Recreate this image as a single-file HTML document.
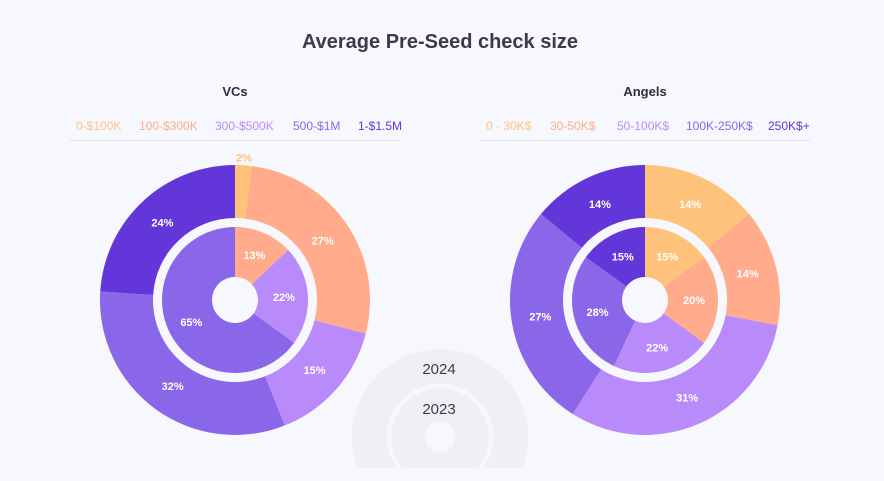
<!DOCTYPE html>
<html><head><meta charset="utf-8"><style>
html,body{margin:0;padding:0;background:#f7f8fd;}
body{width:884px;height:481px;overflow:hidden;font-family:"Liberation Sans",sans-serif;}
svg{display:block;}
</style></head><body>
<svg id="chart" width="884" height="481" xmlns="http://www.w3.org/2000/svg" style="font-family:'Liberation Sans',sans-serif">
<rect width="884" height="481" fill="#f7f8fd"/>
<text x="440" y="48" text-anchor="middle" font-size="20" font-weight="bold" fill="#3b3b4b">Average Pre-Seed check size</text>
<g>
<path d="M357.6 468 A88 88 0 1 1 522.4 468 Z" fill="#eff0f5"/>
<path d="M399.5 468 A51 51 0 1 1 480.5 468" fill="none" stroke="#f7f8fd" stroke-width="5"/>
<circle cx="440" cy="437" r="15" fill="#f7f8fd"/>
<text x="439" y="374" text-anchor="middle" font-size="15" fill="#3b3b4b">2024</text>
<text x="439" y="414" text-anchor="middle" font-size="15" fill="#3b3b4b">2023</text>
</g>
<g id="charts"></g>
</svg>
<script>
const colors=["#ffc27a","#ffab8c","#b98afa","#8a67e8","#6236d9"];
const vcLegend=["0-$100K","100-$300K","300-$500K","500-$1M","1-$1.5M"];
const vcOuter=[2,27,15,32,24];
const vcInner=[0,13,22,65,0];
const angelLegend=["0 - 30K$","30-50K$","50-100K$","100K-250K$","250K$+"];
const angelOuter=[14,14,31,27,14];
const angelInner=[15,20,22,28,15];
const vcLegendX=[76,139,215,293,358];
const angelLegendX=[486,550,617,686,768];
const NS="http://www.w3.org/2000/svg";
const root=document.getElementById('charts');
function mk(tag,attrs,parent){const e=document.createElementNS(NS,tag);for(const k in attrs)e.setAttribute(k,attrs[k]);parent.appendChild(e);return e;}
function pt(cx,cy,r,a){return [cx+r*Math.sin(a),cy-r*Math.cos(a)];}
function arc(cx,cy,r0,r1,a0,a1){
  const large=(a1-a0)>Math.PI?1:0;
  const p0=pt(cx,cy,r1,a0),p1=pt(cx,cy,r1,a1),p2=pt(cx,cy,r0,a1),p3=pt(cx,cy,r0,a0);
  return `M${p0[0]},${p0[1]}A${r1},${r1} 0 ${large} 1 ${p1[0]},${p1[1]}L${p2[0]},${p2[1]}A${r0},${r0} 0 ${large} 0 ${p3[0]},${p3[1]}Z`;
}
function ring(g,cx,cy,r0,r1,vals,lr,name){
  const tot=vals.reduce((a,b)=>a+b,0);let a=0;
  vals.forEach((v,i)=>{
    if(!v)return;
    const a0=a/tot*2*Math.PI,a1=(a+v)/tot*2*Math.PI;a+=v;
    const p=mk('path',{d:arc(cx,cy,r0,r1,a0,a1),fill:colors[i]},g);
    
    
    const m=(a0+a1)/2;let rr=lr;if(v<4)rr=r1+8;
    const q=pt(cx,cy,rr,m);
    const t=mk('text',{x:q[0],y:q[1]+4,'text-anchor':'middle','font-size':11,'font-weight':'bold',fill:v<4?colors[i]:'#fff'},g);
    t.textContent=v+'%';
    
    
  });
}
function chart(cx,title,legend,lx,outer,inner,name){
  const g=mk('g',{},root);
  
  
  const t=mk('text',{x:cx,y:96,'text-anchor':'middle','font-size':13,'font-weight':'bold',fill:'#2e2e3c'},g);
  t.textContent=title;
  
  
  legend.forEach((l,i)=>{
    const e=mk('text',{x:lx[i],y:130,'font-size':12,fill:colors[i]},g);
    e.textContent=l;
    
    
  });
  const ln=mk('line',{x1:cx-165,x2:cx+165,y1:140.5,y2:140.5,stroke:'#e2e3ea'},g);
  
  
  ring(g,cx,300,82,135,outer,106,name+'-outer');
  ring(g,cx,300,23,73,inner,49,name+'-inner');
}
chart(235,'VCs',vcLegend,vcLegendX,vcOuter,vcInner,'vcs');
chart(645,'Angels',angelLegend,angelLegendX,angelOuter,angelInner,'angels');
</script>
</body></html>
